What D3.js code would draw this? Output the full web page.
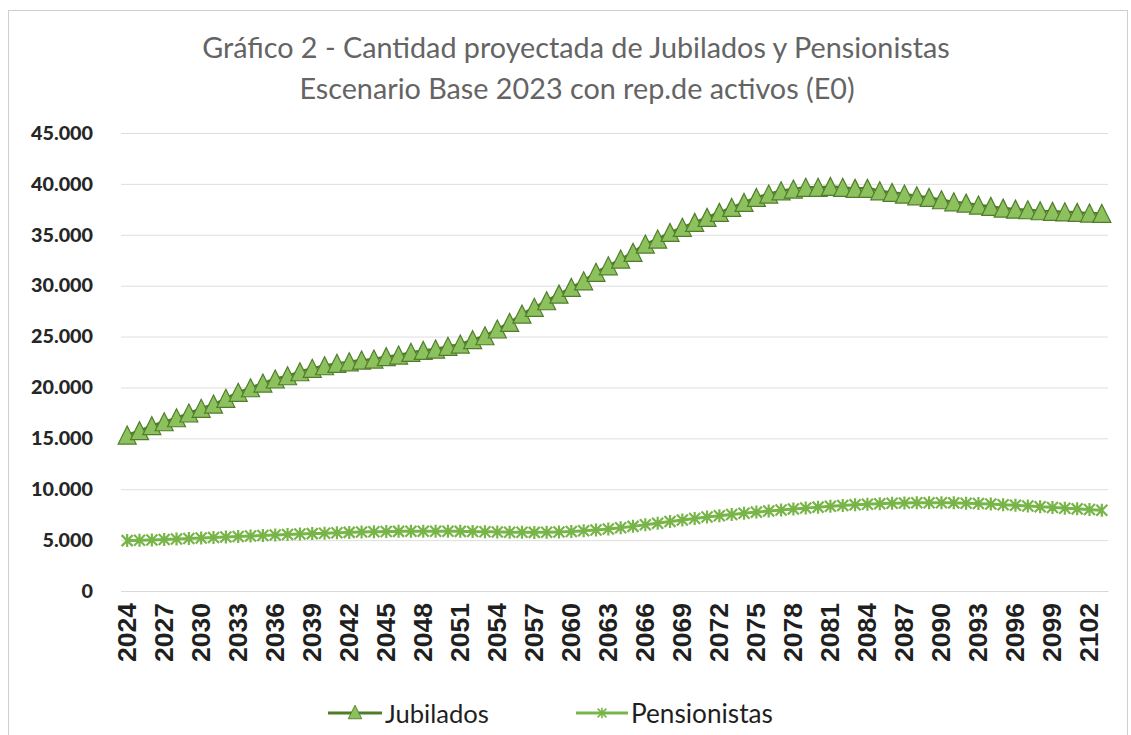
<!DOCTYPE html>
<html>
<head>
<meta charset="utf-8">
<script src="https://cdn.jsdelivr.net/npm/d3@7"></script>
<style>
  html, body { margin: 0; padding: 0; background: #ffffff; }
  svg { display: block; }
</style>
</head>
<body>
<svg id="chart" width="1131" height="735"></svg>
<script>
const titleLines = ["Gráfico 2 - Cantidad proyectada de Jubilados y Pensionistas",
                    "Escenario Base 2023 con rep.de activos (E0)"];
const years = d3.range(2024, 2104);
const jubilados = [
  15320, 15750, 16240, 16630, 17020, 17490, 17950, 18370, 18930, 19520,
  19970, 20430, 20830, 21150, 21540, 21880, 22130, 22370, 22520, 22690,
  22790, 23020, 23180, 23450, 23640, 23770, 24040, 24260, 24690, 25080,
  25740, 26390, 27210, 27870, 28520, 29170, 29830, 30480, 31310, 31950,
  32610, 33270, 34090, 34580, 35230, 35730, 36220, 36710, 37200, 37690,
  38180, 38670, 39000, 39320, 39490, 39660, 39660, 39750, 39660, 39560,
  39560, 39320, 39160, 39000, 38830, 38670, 38440, 38240, 38110, 37920,
  37790, 37620, 37520, 37460, 37360, 37300, 37260, 37200, 37130, 37100
];
const pensionistas = [
  4950, 4980, 5020, 5060, 5100, 5150, 5200, 5250, 5300, 5350,
  5400, 5450, 5500, 5550, 5600, 5640, 5680, 5720, 5760, 5790,
  5820, 5840, 5860, 5870, 5880, 5880, 5870, 5860, 5840, 5820,
  5800, 5780, 5770, 5760, 5770, 5800, 5850, 5920, 6000, 6100,
  6220, 6350, 6500, 6660, 6820, 6980, 7130, 7270, 7400, 7520,
  7640, 7750, 7860, 7960, 8060, 8150, 8240, 8320, 8400, 8470,
  8530, 8580, 8620, 8650, 8670, 8680, 8680, 8660, 8630, 8590,
  8540, 8480, 8420, 8350, 8280, 8210, 8140, 8070, 8000, 7930
];
const yTicks = [0, 5000, 10000, 15000, 20000, 25000, 30000, 35000, 40000, 45000];
const xTickYears = d3.range(2024, 2104, 3);
const seriesNames = ["Jubilados", "Pensionistas"];

const svg = d3.select("#chart");
const W = 1131, H = 735;
const plot = { left: 121, right: 1108, top: 133, bottom: 591 };

svg.append("rect").attr("x", 0).attr("y", 0).attr("width", W).attr("height", H).attr("fill", "#fff");
// chart area border
svg.append("rect").attr("x", 8.5).attr("y", 10.5).attr("width", 1119).attr("height", 760)
  .attr("fill", "none").attr("stroke", "#cfcfcf").attr("stroke-width", 1);

function fitText(sel, targetWidth, startSize) {
  let size = startSize;
  sel.style("font-size", size + "px");
  const w = sel.node().getComputedTextLength();
  if (w > 0) {
    size = size * targetWidth / w;
    sel.style("font-size", size + "px");
  }
  return size;
}

// Title
const t1 = svg.append("text").attr("x", 576).attr("y", 58).attr("text-anchor", "middle")
  .attr("fill", "#646464").style("font-family", "Lato, 'Noto Sans', sans-serif").text(titleLines[0]);
const tsize = fitText(t1, 748, 24);
svg.append("text").attr("x", 577).attr("y", 99).attr("text-anchor", "middle")
  .attr("fill", "#646464").style("font-family", "Lato, 'Noto Sans', sans-serif")
  .style("font-size", tsize + "px").text(titleLines[1]);

const x = d3.scaleBand().domain(years).range([plot.left, plot.right]).padding(0);
const cx = d => x(d) + x.bandwidth() / 2;
const y = d3.scaleLinear().domain([0, 45000]).range([plot.bottom, plot.top]);

const fmtLocale = d3.formatLocale({ decimal: ",", thousands: ".", grouping: [3], currency: ["$", ""] });
const fmt = fmtLocale.format(",.0f");

// Gridlines + y labels
const yAxis = d3.axisLeft(y).tickValues(yTicks).tickSize(-(plot.right - plot.left)).tickFormat(fmt).tickPadding(28);
const gy = svg.append("g").attr("transform", `translate(${plot.left},0)`).call(yAxis);
gy.select(".domain").remove();
gy.selectAll(".tick line").attr("stroke", "#dedede").attr("stroke-width", 1);
gy.selectAll(".tick text").attr("fill", "#262626")
  .style("font-family", "Lato, 'Noto Sans', sans-serif").style("font-weight", "900").style("font-size", "20px");
const y45 = gy.selectAll(".tick text").filter(d => d === 45000);
const ysize = fitText(y45, 62, 20);
gy.selectAll(".tick text").style("font-size", ysize + "px");
gy.selectAll(".tick text").attr("x", 93 - plot.left);

// X axis labels
const xAxis = d3.axisBottom(x).tickValues(xTickYears).tickSize(0).tickPadding(0);
const gx = svg.append("g").attr("transform", `translate(0,${plot.bottom})`).call(xAxis);
gx.select(".domain").attr("stroke", "#d9d9d9");
gx.selectAll(".tick text")
  .attr("fill", "#1f1f1f")
  .style("font-family", "'Liberation Sans', Arial, sans-serif").style("font-weight", "bold")
  .attr("text-anchor", "end").attr("dy", null)
  .attr("transform", "translate(0,12) rotate(-90)")
  .attr("x", 0).attr("y", 0)
  .attr("dominant-baseline", "central");
const x0 = gx.selectAll(".tick text").filter(d => d === 2024);
const xsize = fitText(x0, 59, 20);
gx.selectAll(".tick text").style("font-size", xsize + "px");

const jubLine = "#4f7d2a", jubFill = "#8dc15e";
const penColor = "#78b548";

const line = d3.line().x((d, i) => cx(years[i])).y(d => y(d)).curve(d3.curveMonotoneX);

// Pensionistas
svg.append("path").datum(pensionistas).attr("d", line).attr("fill", "none")
  .attr("stroke", penColor).attr("stroke-width", 3);
const starPath = "M-5.5,-5.5L5.5,5.5M-5.5,5.5L5.5,-5.5M0,-6.5L0,6.5";
svg.append("g").selectAll("path").data(pensionistas).join("path")
  .attr("transform", (d, i) => `translate(${cx(years[i])},${y(d)})`)
  .attr("d", starPath).attr("fill", "none").attr("stroke", penColor).attr("stroke-width", 2.2);

// Jubilados
svg.append("path").datum(jubilados).attr("d", line).attr("fill", "none")
  .attr("stroke", jubLine).attr("stroke-width", 2.5);
const triPath = "M0,-9L9,9L-9,9Z";
svg.append("g").selectAll("path").data(jubilados).join("path")
  .attr("transform", (d, i) => `translate(${cx(years[i])},${y(d)})`)
  .attr("d", triPath).attr("fill", jubFill).attr("stroke", jubLine).attr("stroke-width", 1.2)
  .attr("stroke-linejoin", "miter");

// Legend
const legendY = 713;
const legend = [
  { name: seriesNames[0], x1: 328, x2: 382, tx: 385, tw: 104, color: jubLine, marker: "tri" },
  { name: seriesNames[1], x1: 576, x2: 628, tx: 631, tw: 142, color: penColor, marker: "star" }
];
legend.forEach(l => {
  svg.append("line").attr("x1", l.x1).attr("x2", l.x2).attr("y1", legendY).attr("y2", legendY)
    .attr("stroke", l.color).attr("stroke-width", 3);
  const mx = (l.x1 + l.x2) / 2;
  if (l.marker === "tri") {
    svg.append("path").attr("transform", `translate(${mx},${legendY - 1}) scale(0.75)`).attr("d", triPath)
      .attr("fill", jubFill).attr("stroke", jubLine).attr("stroke-width", 1.2);
  } else {
    svg.append("path").attr("transform", `translate(${mx},${legendY}) scale(0.8)`).attr("d", starPath)
      .attr("fill", "none").attr("stroke", penColor).attr("stroke-width", 2);
  }
  const t = svg.append("text").attr("x", l.tx).attr("y", legendY).attr("dominant-baseline", "central")
    .attr("fill", "#1f1f1f").style("font-family", "Lato, 'Noto Sans', sans-serif").text(l.name);
  fitText(t, l.tw, 22);
});
</script>
</body>
</html>
